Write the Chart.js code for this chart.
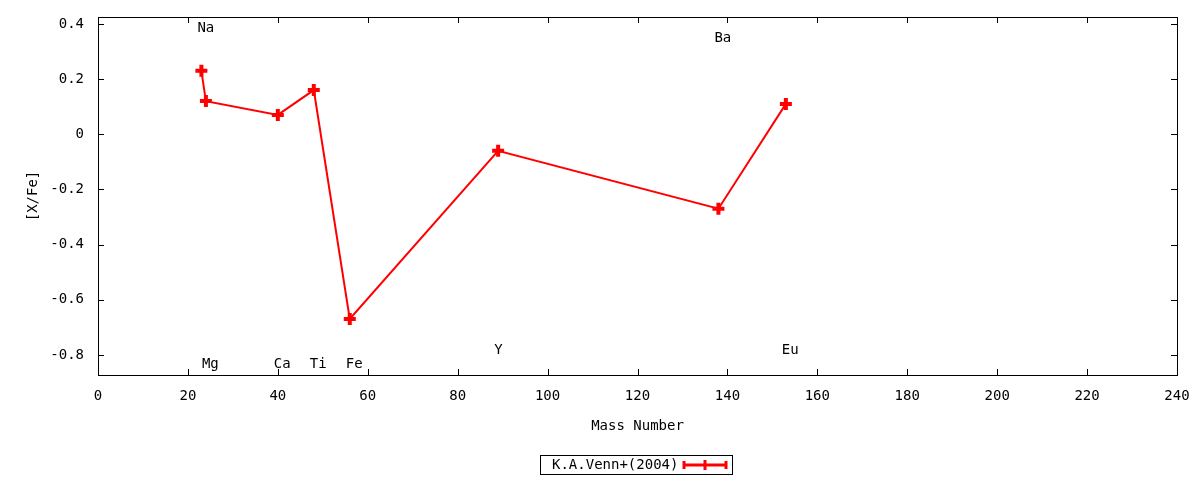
<!DOCTYPE html>
<html>
<head>
<meta charset="utf-8">
<script src="https://cdn.jsdelivr.net/npm/chart.js@4"></script>
<style>
  html, body { margin: 0; padding: 0; background: #fff; }
  #wrap { width: 1200px; height: 480px; }
</style>
</head>
<body>
<div id="wrap"><canvas id="chart"></canvas></div>
<script>
const massNumbers = [23, 24, 40, 48, 56, 89, 138, 153];
const xFe = [0.23, 0.12, 0.07, 0.16, -0.67, -0.06, -0.27, 0.11];
const seriesLabel = 'K.A.Venn+(2004)';

// element name labels placed on the plot
const elemNames = ['Na', 'Mg', 'Ca', 'Ti', 'Fe', 'Y', 'Ba', 'Eu'];
const elemLabelX = [23, 24, 40, 48, 56, 89, 138, 153];
const elemLabelY = [0.383, -0.833, -0.833, -0.833, -0.833, -0.783, 0.348, -0.783];

const xTicks = [0, 20, 40, 60, 80, 100, 120, 140, 160, 180, 200, 220, 240];
const yTicks = [-0.8, -0.6, -0.4, -0.2, 0, 0.2, 0.4];

const FONT = '"DejaVu Sans Mono", monospace';
const RED = '#ff0000';

const points = massNumbers.map((m, i) => ({ x: m, y: xFe[i] }));

// gnuplot-like frame: border, inward ticks on all four sides, labels, key box
const framePlugin = {
    id: 'frame',
    afterDraw(chart) {
        const ctx = chart.ctx;
        const a = chart.chartArea;
        const xs = chart.scales.x;
        const ys = chart.scales.y;
        ctx.save();
        ctx.strokeStyle = '#000';
        ctx.lineWidth = 1;
        ctx.strokeRect(a.left + 0.5, a.top + 0.5, a.right - a.left, a.bottom - a.top);
        ctx.beginPath();
        xTicks.forEach(v => {
            const px = Math.round(xs.getPixelForValue(v)) + 0.5;
            ctx.moveTo(px, a.bottom); ctx.lineTo(px, a.bottom - 6);
            ctx.moveTo(px, a.top); ctx.lineTo(px, a.top + 6);
        });
        yTicks.forEach(v => {
            const py = Math.round(ys.getPixelForValue(v)) + 0.5;
            ctx.moveTo(a.left, py); ctx.lineTo(a.left + 6, py);
            ctx.moveTo(a.right, py); ctx.lineTo(a.right - 6, py);
        });
        ctx.stroke();

        ctx.fillStyle = '#000';
        ctx.font = '14px ' + FONT;
        ctx.textAlign = 'left';
        ctx.textBaseline = 'middle';
        elemNames.forEach((n, i) => {
            const px = xs.getPixelForValue(elemLabelX[i]) - 4;
            const py = ys.getPixelForValue(elemLabelY[i]);
            ctx.fillText(n, px, py);
        });

        // key
        const kx = 540, ky = 455, kw = 192, kh = 19;
        ctx.strokeRect(kx + 0.5, ky + 0.5, kw, kh);
        ctx.fillText(seriesLabel, kx + 12, ky + kh / 2 + 1);
        const l0 = kx + 144, l1 = kx + 186, my = ky + kh / 2 + 0.5;
        ctx.strokeStyle = RED;
        ctx.lineWidth = 3;
        ctx.beginPath();
        ctx.moveTo(l0, my); ctx.lineTo(l1, my);
        ctx.moveTo(l0, my - 4); ctx.lineTo(l0, my + 4);
        ctx.moveTo(l1, my - 4); ctx.lineTo(l1, my + 4);
        const mx = (l0 + l1) / 2;
        ctx.moveTo(mx, my - 5); ctx.lineTo(mx, my + 5);
        ctx.moveTo(mx - 5, my); ctx.lineTo(mx + 5, my);
        ctx.stroke();
        ctx.restore();
    }
};

new Chart(document.getElementById('chart'), {
    type: 'scatter',
    data: {
        datasets: [{
            label: seriesLabel,
            data: points,
            showLine: true,
            borderColor: RED,
            backgroundColor: RED,
            borderWidth: 2,
            pointStyle: 'cross',
            pointRadius: 6,
            pointBorderWidth: 4,
            pointHoverRadius: 6,
            tension: 0
        }]
    },
    options: {
        responsive: true,
        maintainAspectRatio: false,
        animation: false,
        layout: { autoPadding: false, padding: { left: 0, right: 23, top: 17, bottom: 45 } },
        plugins: {
            legend: { display: false },
            tooltip: { enabled: false }
        },
        scales: {
            x: {
                type: 'linear',
                min: 0,
                max: 240,
                afterBuildTicks: s => { s.ticks = xTicks.map(v => ({ value: v })); },
                afterFit: s => { s.height = 60; s.paddingLeft = 0; s.paddingRight = 0; },
                grid: { display: false, drawTicks: false },
                border: { display: false },
                ticks: {
                    padding: 13,
                    color: '#000',
                    font: { family: FONT, size: 14 },
                    maxRotation: 0
                },
                title: {
                    display: true,
                    text: 'Mass Number',
                    color: '#000',
                    font: { family: FONT, size: 14 },
                    padding: { top: 0, bottom: 0 }
                }
            },
            y: {
                type: 'linear',
                min: -0.873,
                max: 0.425,
                afterBuildTicks: s => { s.ticks = yTicks.map(v => ({ value: v })); },
                afterFit: s => { s.width = 98; s.paddingTop = 0; s.paddingBottom = 0; },
                grid: { display: false, drawTicks: false },
                border: { display: false },
                ticks: {
                    padding: 14,
                    color: '#000',
                    font: { family: FONT, size: 14 },
                    callback: v => (Math.abs(v) < 1e-9 ? '0' : String(Math.round(v * 10) / 10))
                },
                title: {
                    display: true,
                    text: '[X/Fe]',
                    color: '#000',
                    font: { family: FONT, size: 14 },
                    padding: { top: 25, bottom: 0 }
                }
            }
        }
    },
    plugins: [framePlugin]
});
</script>
</body>
</html>
